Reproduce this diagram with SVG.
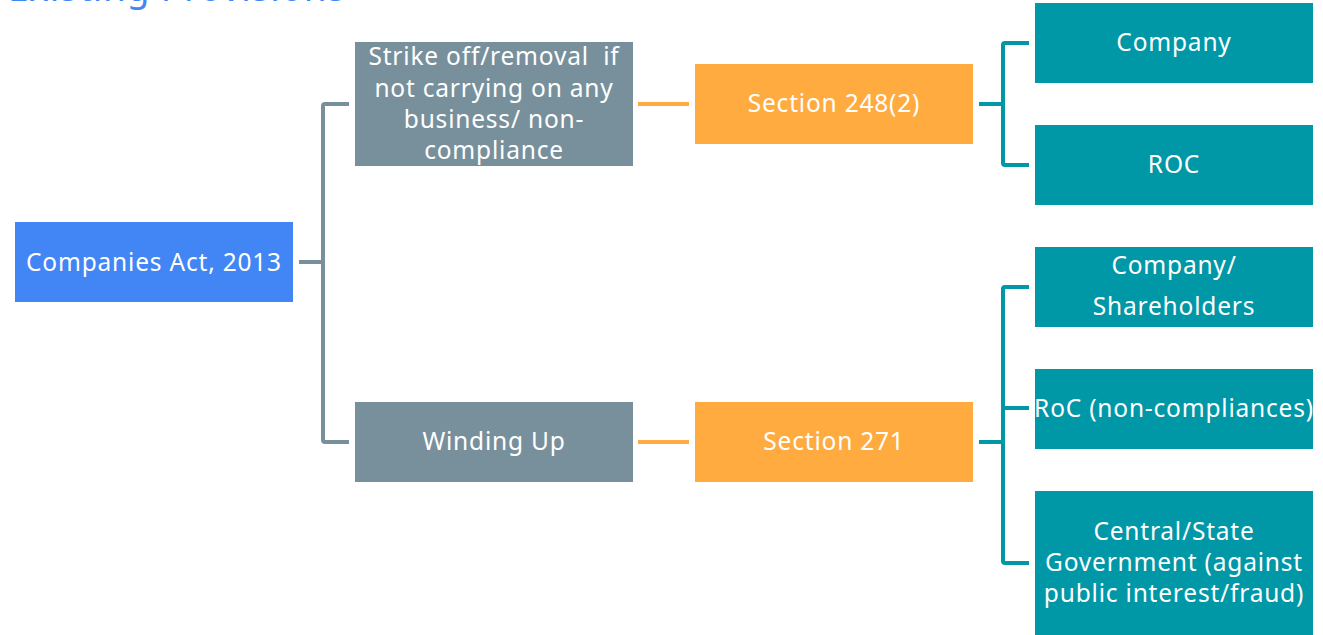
<svg xmlns="http://www.w3.org/2000/svg" width="1323" height="635" viewBox="0 0 1323 635">
  <style>
    .lbl { font-family: "Noto Sans", "Open Sans", sans-serif; font-size: 24.5px; letter-spacing: 0.8px; fill: #ffffff; text-anchor: middle; white-space: pre; }
    .title { font-family: "Noto Sans", "Open Sans", sans-serif; font-size: 37px; letter-spacing: 0.8px; fill: #4285f4; }
    .root { fill: #4285f4; }
    .grey { fill: #78909c; }
    .orange { fill: #ffab40; }
    .teal { fill: #0097a7; }
    .c-grey { fill: none; stroke: #78909c; stroke-width: 4; stroke-linejoin: round; }
    .c-orange { fill: none; stroke: #ffab40; stroke-width: 4; }
    .c-teal { fill: none; stroke: #0097a7; stroke-width: 4; stroke-linejoin: round; }
  </style>
  <rect width="1323" height="635" fill="#ffffff"/>

  <text class="title" x="8" y="1">Existing Provisions</text>

  <g id="connectors">
    <path class="c-grey" d="M299 262 H323 M349 104 H325 Q323 104 323 106 V440 Q323 442 325 442 H349"/>
    <path class="c-orange" d="M638 104 H689"/>
    <path class="c-orange" d="M638 442 H689"/>
    <path class="c-teal" d="M979 104 H1003 M1029 43 H1005 Q1003 43 1003 45 V163 Q1003 165 1005 165 H1029"/>
    <path class="c-teal" d="M979 442 H1003 M1029 287 H1005 Q1003 287 1003 289 V561 Q1003 563 1005 563 H1029 M1003 408 H1029"/>
  </g>

  <g id="companies-act">
    <rect class="root" x="15" y="222" width="278" height="80"/>
    <text class="lbl" x="154" y="271">Companies Act, 2013</text>
  </g>

  <g id="strike-off">
    <rect class="grey" x="355" y="42" width="278" height="124"/>
    <text class="lbl" x="494" y="65" xml:space="preserve">Strike off/removal  if</text>
    <text class="lbl" x="494" y="97">not carrying on any</text>
    <text class="lbl" x="494" y="128">business/ non-</text>
    <text class="lbl" x="494" y="159">compliance</text>
  </g>

  <g id="winding-up">
    <rect class="grey" x="355" y="402" width="278" height="80"/>
    <text class="lbl" x="494" y="450">Winding Up</text>
  </g>

  <g id="section-248">
    <rect class="orange" x="695" y="64" width="278" height="80"/>
    <text class="lbl" x="834" y="112">Section 248(2)</text>
  </g>

  <g id="section-271">
    <rect class="orange" x="695" y="402" width="278" height="80"/>
    <text class="lbl" x="834" y="450">Section 271</text>
  </g>

  <g id="company">
    <rect class="teal" x="1035" y="3" width="278" height="80"/>
    <text class="lbl" x="1174" y="51">Company</text>
  </g>

  <g id="roc">
    <rect class="teal" x="1035" y="125" width="278" height="80"/>
    <text class="lbl" x="1174" y="173">ROC</text>
  </g>

  <g id="company-shareholders">
    <rect class="teal" x="1035" y="247" width="278" height="80"/>
    <text class="lbl" x="1174" y="274">Company/</text>
    <text class="lbl" x="1174" y="315">Shareholders</text>
  </g>

  <g id="roc-non-compliances">
    <rect class="teal" x="1035" y="369" width="278" height="80"/>
    <text class="lbl" x="1174" y="417">RoC (non-compliances)</text>
  </g>

  <g id="government">
    <rect class="teal" x="1035" y="491" width="278" height="144"/>
    <text class="lbl" x="1174" y="540">Central/State</text>
    <text class="lbl" x="1174" y="571">Government (against</text>
    <text class="lbl" x="1174" y="602">public interest/fraud)</text>
  </g>
</svg>
